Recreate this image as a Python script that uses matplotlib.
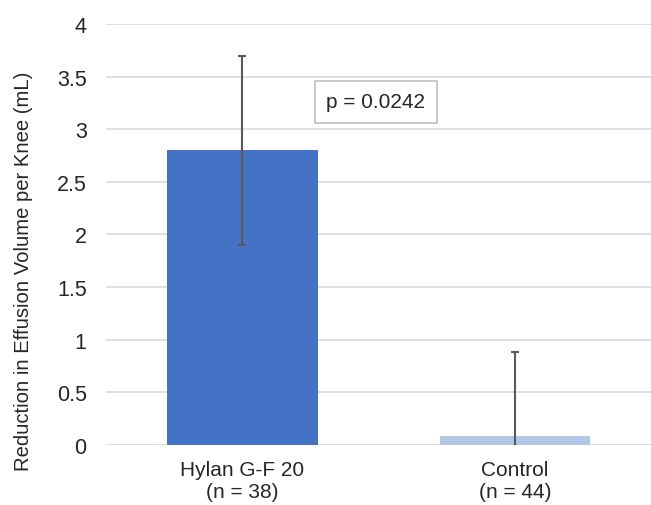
import matplotlib.pyplot as plt

# values
groups = ["Hylan G-F 20\n(n = 38)", "Control\n(n = 44)"]
reduction_ml = [2.8, 0.09]
error_ml = [0.9, 0.79]
bar_colors = ["#4472C4", "#B4C7E7"]
y_ticks = [0, 0.5, 1, 1.5, 2, 2.5, 3, 3.5, 4]
p_text = "p = 0.0242"

plt.rcParams["font.family"] = ["Liberation Sans", "DejaVu Sans"]

fig = plt.figure(figsize=(6.51, 5.06), dpi=100)
ax = fig.add_axes([0.163, 0.1186, 0.837, 0.832])

x = list(range(len(groups)))
ax.bar(x, reduction_ml, width=0.552, color=bar_colors, zorder=2)
ax.errorbar(x, reduction_ml, yerr=error_ml, fmt="none", ecolor="#595959",
            elinewidth=1.5, capsize=3, capthick=1.5, zorder=3)

ax.set_xlim(-0.5, 1.5)
ax.set_ylim(0, 4)
ax.set_yticks(y_ticks)
ax.set_yticklabels([f"{t:g}" for t in y_ticks], fontsize=15.5, color="#262626")
ax.set_xticks(x)
ax.set_xticklabels(groups, fontsize=15, color="#262626", linespacing=1.15)
ax.tick_params(axis="x", length=0, pad=11)
ax.tick_params(axis="y", length=0, pad=14)
ax.yaxis.grid(True, color="#D9D9D9", linewidth=1.2, zorder=0)
for s in ax.spines.values():
    s.set_visible(False)

ax.set_ylabel("Reduction in Effusion Volume per Knee (mL)", fontsize=14.6,
              color="#262626")
# Excel centres the axis title over plot area + category labels
ax.yaxis.set_label_coords(-0.134, 0.416)

ax.text(0.49, 3.26, p_text, fontsize=15, color="#262626", ha="center", va="center",
        bbox=dict(boxstyle="square,pad=0.55", facecolor="white", edgecolor="#BFBFBF",
                  linewidth=1.2), zorder=4)

fig.savefig("out.png", dpi=100)
